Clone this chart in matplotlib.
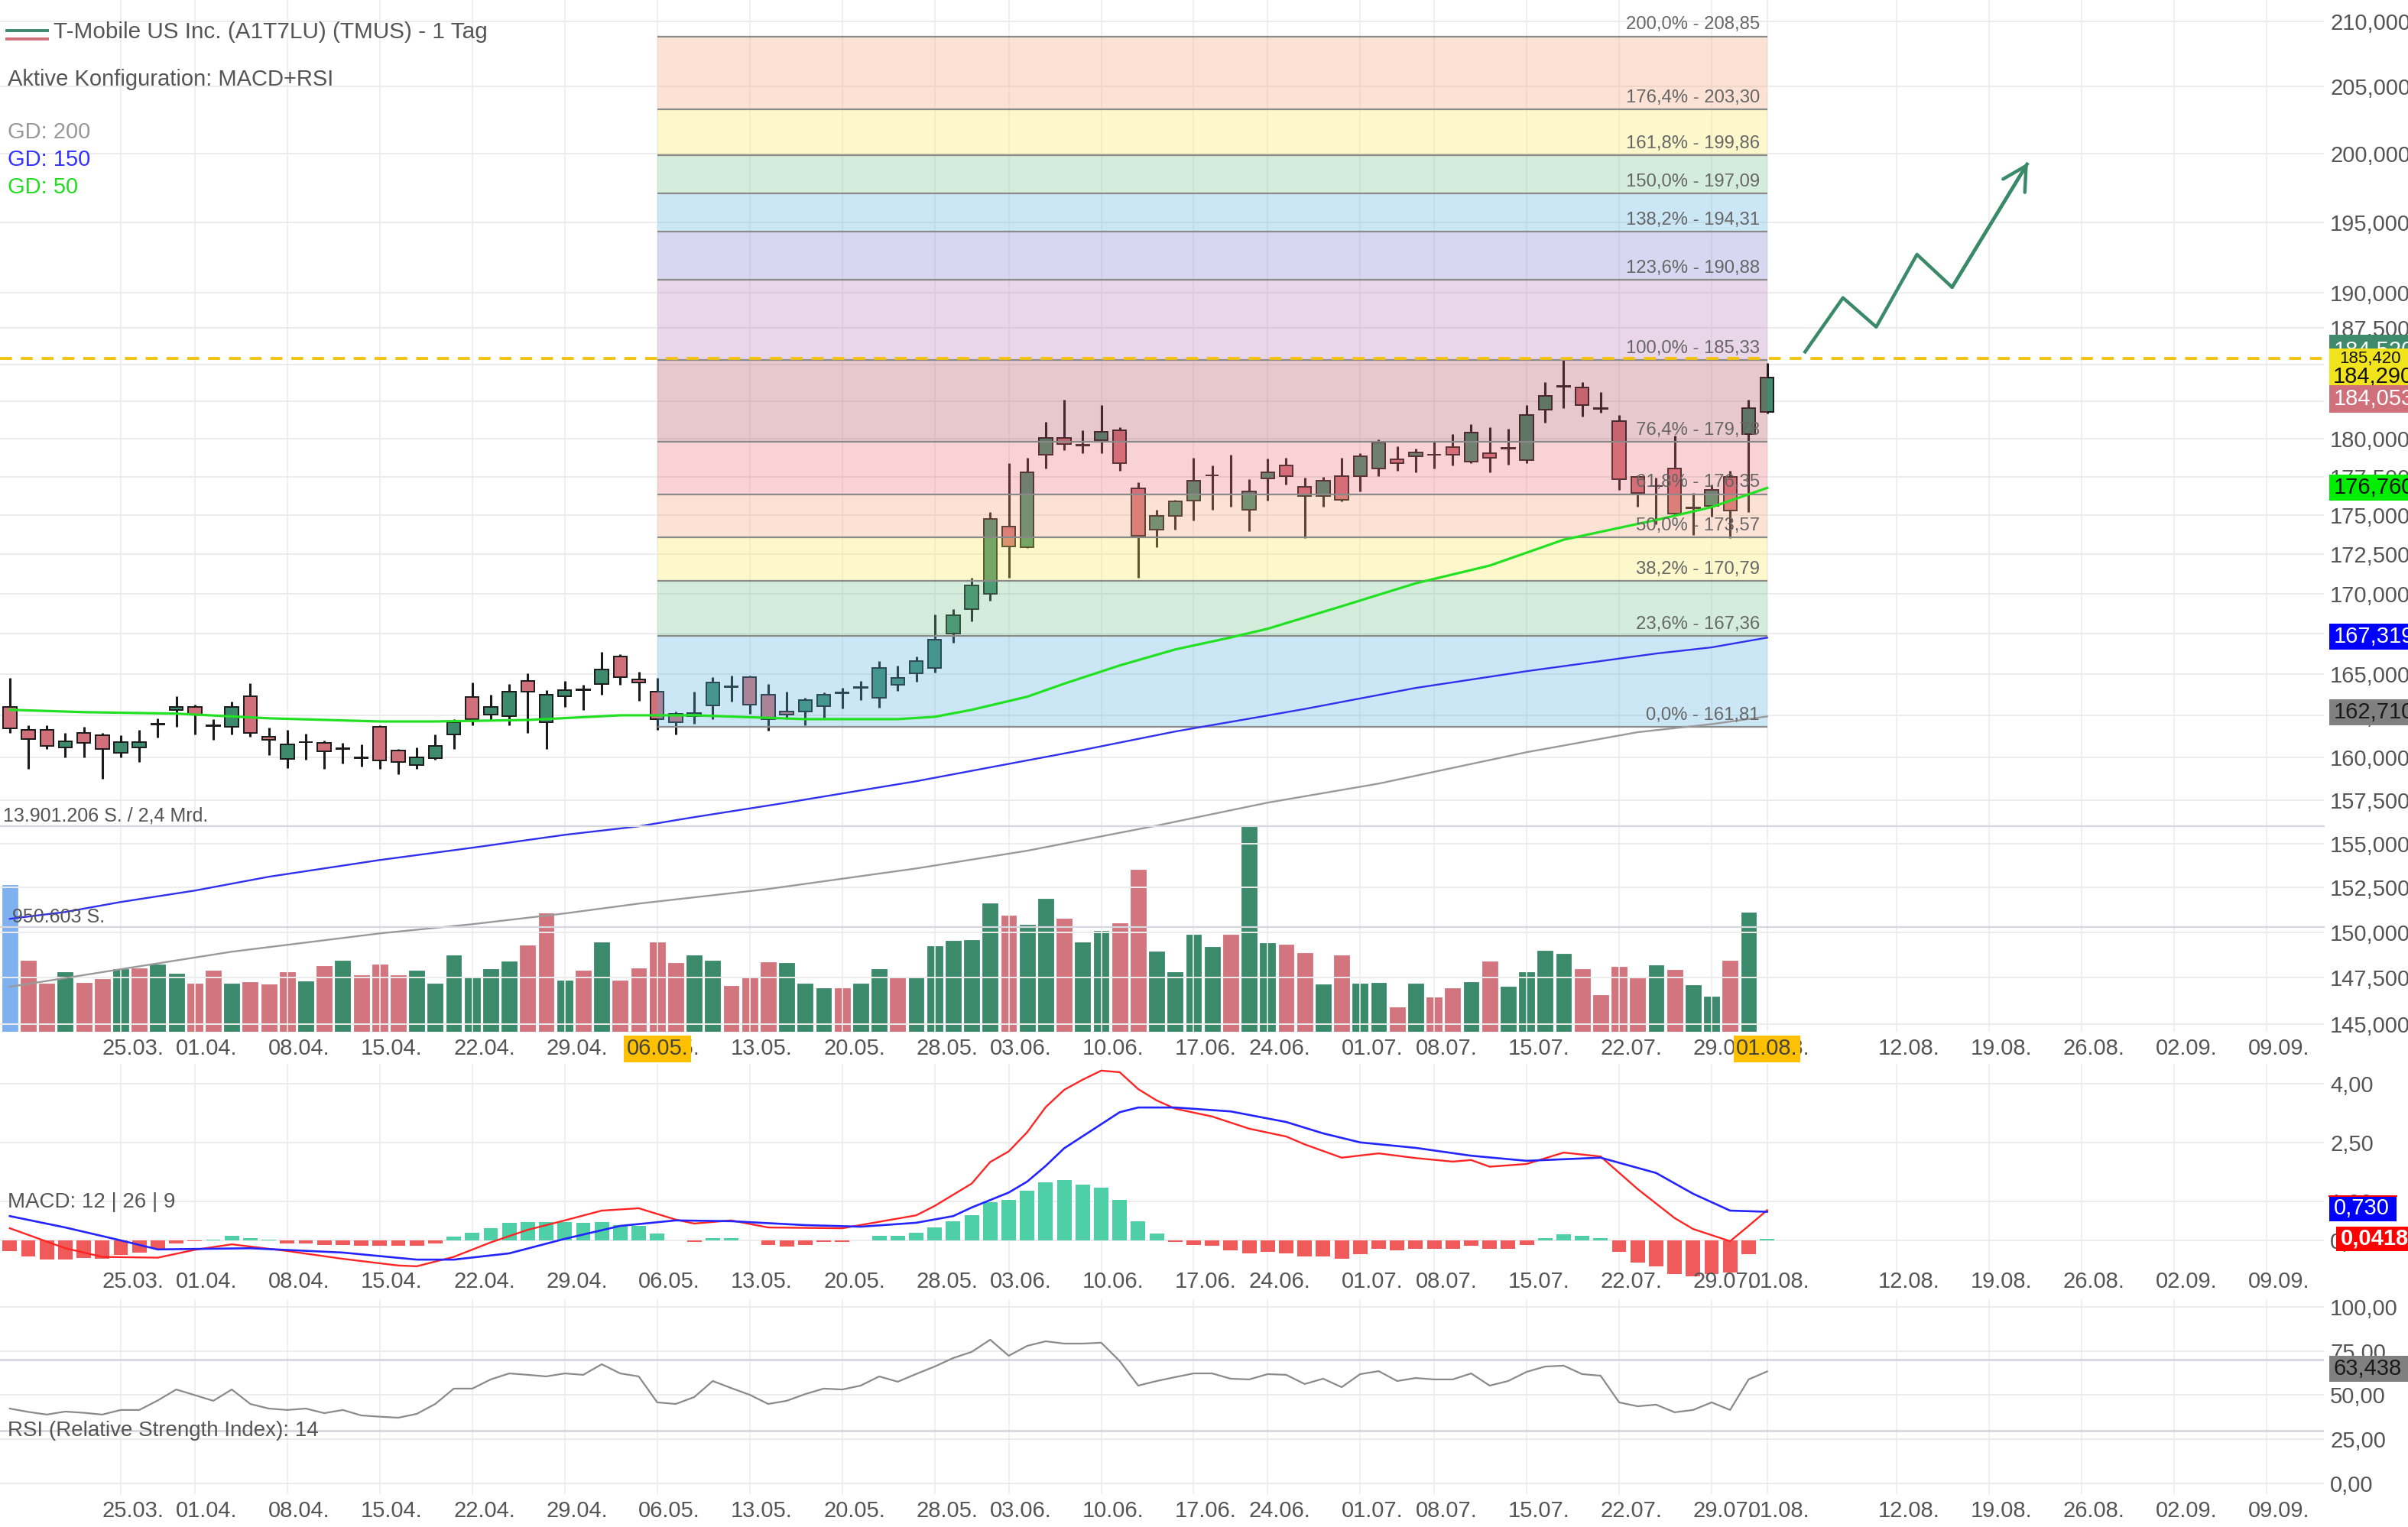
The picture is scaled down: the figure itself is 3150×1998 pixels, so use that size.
import matplotlib
matplotlib.use('agg')
import matplotlib.pyplot as plt
import matplotlib.transforms as mtransforms
from matplotlib.patches import Rectangle
from matplotlib.lines import Line2D
from matplotlib.ticker import FixedLocator, NullLocator, FuncFormatter

plt.rcParams['font.family'] = ['Liberation Sans', 'DejaVu Sans']

# ---- daily candles, 15.03.2024 (index 0) .. 01.08.2024 (index 95) ----
opens = [163.03, 161.66, 161.66, 160.61, 161.48, 161.31, 160.27, 160.61, 161.95, 162.85,
         163.03, 161.86, 161.83, 163.68, 161.22, 159.92, 160.90, 160.87, 160.51, 159.99,
         161.83, 160.44, 159.58, 159.97, 161.39, 163.64, 162.57, 162.48, 164.61, 162.10,
         163.68, 164.04, 164.43, 166.10, 164.71, 163.96, 162.62, 162.48, 163.13, 164.22,
         164.85, 163.78, 162.76, 162.76, 163.08, 163.85, 164.18, 163.59, 164.34, 165.08,
         165.40, 167.49, 169.02, 169.98, 174.24, 172.92, 178.94, 180.05, 179.56, 179.89,
         180.57, 176.73, 174.04, 174.92, 175.92, 177.56, 176.31, 175.36, 177.38, 178.24,
         176.83, 176.22, 177.53, 177.53, 178.04, 178.64, 178.84, 178.92, 179.43, 178.49,
         179.04, 179.36, 178.59, 181.92, 183.51, 183.43, 182.00, 181.19, 177.48, 176.86,
         178.04, 175.45, 175.57, 177.48, 180.31, 181.81]
highs = [164.80, 161.92, 161.92, 161.48, 161.83, 161.48, 161.31, 161.66, 162.34, 163.68,
         163.17, 162.29, 163.36, 164.47, 161.78, 161.66, 161.44, 161.00, 160.87, 160.79,
         161.92, 160.53, 160.61, 161.39, 162.29, 164.52, 163.78, 164.43, 165.08, 164.06,
         164.61, 164.34, 166.38, 166.24, 165.17, 164.80, 162.76, 163.96, 164.85, 164.94,
         164.94, 164.43, 163.96, 163.59, 163.92, 164.20, 164.61, 165.82, 165.54, 166.10,
         168.68, 169.02, 170.98, 175.17, 178.39, 178.74, 181.14, 182.64, 180.57, 182.23,
         180.78, 177.13, 175.36, 175.97, 178.74, 178.24, 178.94, 177.33, 178.69, 178.74,
         177.43, 177.48, 178.74, 179.04, 179.95, 179.48, 179.34, 179.84, 180.31, 180.98,
         180.78, 180.67, 182.23, 183.79, 185.30, 183.79, 183.11, 181.61, 177.58, 177.43,
         180.21, 176.43, 176.98, 177.89, 182.59, 185.11]
lows = [161.48, 159.32, 160.53, 160.01, 160.01, 158.75, 160.01, 159.75, 161.18, 161.83,
        161.39, 161.05, 161.39, 161.22, 160.14, 159.40, 159.88, 159.32, 159.66, 159.45,
        159.32, 159.01, 159.32, 159.88, 160.53, 161.92, 162.20, 161.92, 161.48, 160.53,
        163.03, 162.85, 163.78, 164.34, 163.41, 161.66, 161.39, 162.01, 162.29, 163.36,
        162.62, 161.61, 162.29, 161.92, 162.38, 162.94, 163.45, 162.99, 164.01, 164.57,
        165.12, 166.93, 168.26, 169.55, 170.98, 172.87, 178.04, 179.23, 179.04, 179.04,
        177.89, 170.98, 172.92, 174.04, 174.63, 175.36, 175.52, 173.95, 175.92, 176.98,
        173.51, 175.52, 175.87, 176.53, 177.53, 177.89, 177.79, 178.04, 178.24, 178.39,
        177.79, 178.29, 178.39, 181.09, 182.07, 181.50, 181.76, 176.63, 175.52, 174.39,
        174.92, 173.70, 174.87, 173.51, 175.17, 181.71]
closes = [161.74, 161.09, 160.70, 160.96, 160.87, 160.53, 160.92, 160.92, 162.00, 163.03,
          162.57, 161.90, 163.03, 161.48, 161.05, 160.79, 160.94, 160.36, 160.55, 160.03,
          159.84, 159.75, 160.01, 160.70, 162.10, 162.29, 163.03, 163.96, 163.96, 163.78,
          164.06, 164.08, 165.31, 164.85, 164.52, 162.29, 162.10, 162.66, 164.52, 164.26,
          163.17, 162.29, 162.57, 163.45, 163.78, 163.89, 164.22, 165.40, 164.80, 165.82,
          167.12, 168.64, 170.49, 174.73, 172.97, 177.79, 180.05, 179.64, 179.60, 180.47,
          178.39, 173.65, 174.92, 175.87, 177.23, 177.60, 176.35, 176.53, 177.79, 177.53,
          176.22, 177.23, 175.97, 178.84, 179.74, 178.39, 179.09, 178.96, 178.94, 180.41,
          178.74, 179.40, 181.61, 182.85, 183.55, 182.23, 182.04, 177.33, 176.43, 176.90,
          175.07, 175.49, 176.63, 175.27, 182.07, 184.09]

# volume in million shares (index 0..94), b = highlighted, g = up, r = down
volumes = [9.92, 4.81, 3.26, 4.03, 3.31, 3.57, 4.24, 4.29, 4.55, 3.93,
           3.26, 4.13, 3.26, 3.36, 3.20, 4.03, 3.41, 4.44, 4.81, 3.82,
           4.55, 3.82, 4.13, 3.26, 5.17, 3.72, 4.24, 4.75, 5.84, 8.01,
           3.46, 4.13, 6.05, 3.46, 4.29, 6.05, 4.65, 5.17, 4.81, 3.10,
           3.72, 4.70, 4.65, 3.26, 2.95, 2.95, 3.26, 4.24, 3.67, 3.72,
           5.79, 6.15, 6.20, 8.68, 7.86, 7.24, 8.99, 7.65, 6.05, 6.82,
           7.34, 10.96, 5.43, 4.03, 6.56, 5.74, 6.56, 13.90, 5.99, 5.89,
           5.32, 3.20, 5.17, 3.26, 3.31, 1.65, 3.26, 2.33, 2.95, 3.36,
           4.75, 3.05, 4.03, 5.48, 5.27, 4.24, 2.48, 4.39, 3.62, 4.50,
           4.19, 3.15, 2.38, 4.81, 8.06]
vol_dir = ("b" + "rrgrrgrgg" + "rrgrrrgrgr" + "rrggggggrr" + "grgrrrrggr" + "rrgggrggrg"
           + "ggggrggrgg" + "rrggggrggr" + "rgrggrgrrg" + "rggggrrrrg" + "rggrg")

# moving averages (GD)
gd50_idx = [0, 4, 9, 14, 20, 23, 28, 33, 37, 43, 48, 50, 52, 55, 57, 60, 63, 66, 68, 72, 76, 80, 84, 89, 92, 95]
gd50_val = [162.85, 162.71, 162.62, 162.34, 162.15, 162.15, 162.24, 162.52, 162.52, 162.29, 162.29, 162.43,
            162.85, 163.64, 164.43, 165.54, 166.52, 167.26, 167.80, 169.20, 170.64, 171.76, 173.41, 174.68,
            175.51, 176.76]
gd150_idx = [0, 3, 6, 10, 14, 20, 25, 30, 34, 37, 42, 49, 58, 63, 68, 70, 76, 82, 89, 92, 95]
gd150_val = [150.75, 151.13, 151.69, 152.33, 153.11, 154.06, 154.76, 155.50, 155.99, 156.52, 157.36, 158.61,
             160.45, 161.55, 162.51, 162.90, 164.17, 165.19, 166.27, 166.65, 167.25]
gd200_idx = [0, 6, 12, 20, 25, 30, 34, 41, 49, 55, 62, 68, 74, 82, 88, 92, 95]
gd200_val = [147.01, 147.97, 148.93, 149.94, 150.45, 151.05, 151.60, 152.42, 153.58, 154.59, 156.03, 157.36,
             158.47, 160.32, 161.51, 161.99, 162.45]

# MACD 12|26|9
macd_idx = [0, 3, 5, 8, 10, 12, 15, 18, 21, 22, 24, 26, 28, 30, 32, 34, 36, 37, 39, 41, 45, 49, 50, 52,
            53, 54, 55, 56, 57, 58, 59, 60, 61, 62, 63, 65, 67, 69, 70, 72, 74, 76, 78, 79, 80, 82, 84,
            86, 88, 90, 91, 93, 94, 95]
macd_val = [0.31, -0.20, -0.42, -0.44, -0.24, -0.10, -0.27, -0.47, -0.64, -0.66, -0.42, -0.05, 0.27, 0.51,
            0.76, 0.82, 0.53, 0.43, 0.51, 0.33, 0.31, 0.64, 0.88, 1.45, 2.00, 2.27, 2.76, 3.40, 3.84, 4.10,
            4.33, 4.29, 3.86, 3.57, 3.36, 3.16, 2.85, 2.65, 2.45, 2.11, 2.22, 2.10, 2.01, 2.05, 1.88, 1.95,
            2.24, 2.14, 1.31, 0.57, 0.29, -0.02, 0.37, 0.77]
signal_idx = [0, 3, 6, 8, 13, 18, 22, 24, 27, 30, 33, 36, 39, 43, 46, 49, 51, 52, 54, 55, 56, 57, 60, 61,
              63, 66, 69, 71, 73, 76, 79, 82, 86, 89, 91, 93, 95]
signal_val = [0.62, 0.33, 0.00, -0.23, -0.20, -0.31, -0.49, -0.49, -0.33, 0.04, 0.37, 0.51, 0.49, 0.39,
              0.35, 0.45, 0.62, 0.84, 1.22, 1.50, 1.90, 2.35, 3.27, 3.39, 3.39, 3.29, 3.02, 2.73, 2.50, 2.36,
              2.16, 2.03, 2.11, 1.72, 1.19, 0.76, 0.73]
macd_hist = [-0.28, -0.40, -0.48, -0.48, -0.45, -0.46, -0.37, -0.32, -0.21, -0.07,
             -0.02, 0.02, 0.12, 0.05, 0.01, -0.08, -0.08, -0.11, -0.11, -0.13,
             -0.13, -0.13, -0.13, -0.07, 0.09, 0.20, 0.31, 0.44, 0.47, 0.47,
             0.47, 0.44, 0.47, 0.39, 0.37, 0.18, 0.00, -0.03, 0.05, 0.05,
             0.00, -0.12, -0.15, -0.11, -0.04, -0.04, 0.00, 0.12, 0.12, 0.20,
             0.33, 0.49, 0.64, 0.98, 1.03, 1.26, 1.49, 1.54, 1.43, 1.34,
             1.03, 0.49, 0.18, -0.03, -0.11, -0.14, -0.26, -0.33, -0.29, -0.33,
             -0.40, -0.40, -0.47, -0.36, -0.22, -0.26, -0.22, -0.22, -0.22, -0.14,
             -0.22, -0.22, -0.11, 0.05, 0.16, 0.12, 0.05, -0.29, -0.56, -0.67,
             -0.86, -0.92, -0.86, -0.82, -0.36, 0.04]

# RSI 14
rsi = [42.4, 40.5, 39.0, 40.7, 40.0, 39.0, 41.6, 41.6, 47.0, 53.2,
       50.0, 46.8, 53.2, 45.0, 42.4, 41.6, 42.4, 39.8, 41.6, 38.5,
       37.8, 37.2, 39.4, 45.0, 53.7, 53.7, 58.9, 62.3, 61.5, 60.6,
       62.3, 61.5, 67.5, 62.3, 60.6, 45.9, 45.0, 48.9, 58.0, 54.0,
       50.2, 45.0, 46.8, 50.6, 53.7, 53.2, 55.4, 60.6, 57.6, 62.0,
       66.2, 71.0, 74.5, 81.4, 72.3, 77.9, 80.5, 79.2, 79.2, 79.7,
       69.3, 55.4, 58.0, 60.2, 62.3, 62.3, 59.3, 58.9, 61.9, 61.5,
       56.3, 59.3, 54.5, 61.9, 63.6, 58.0, 59.7, 58.9, 58.9, 62.3,
       55.4, 58.0, 63.2, 66.2, 66.7, 61.9, 61.0, 45.9, 43.7, 44.6,
       40.3, 41.6, 45.9, 41.6, 58.9, 63.4]

# Fibonacci retracement 06.05. - 01.08.
fib_pct = [0.0, 23.6, 38.2, 50.0, 61.8, 76.4, 100.0, 123.6, 138.2, 150.0, 161.8, 176.4, 200.0]
fib_price = [161.81, 167.36, 170.79, 173.57, 176.35, 179.78, 185.33, 190.88, 194.31, 197.09, 199.86, 203.30, 208.85]
fib_colors = ['#55b2de', '#70c38a', '#f8eb55', '#f8a276', '#e86c73', '#b24b58',
              '#b97ab9', '#807dd4', '#55b2de', '#70c38a', '#f8eb55', '#f8a276']
fib_start, fib_end = 35, 95

# trend arrow drawn into the future
arrow_idx = [97.0, 99.1, 100.9, 103.1, 105.0, 109.1]
arrow_price = [185.78, 189.62, 187.59, 192.68, 190.36, 199.32]

date_idx = [6, 10, 15, 20, 25, 30, 35, 40, 45, 50, 54, 59, 64, 68, 73, 77, 82, 87, 92, 95,
            102, 107, 112, 117, 122]
date_lbl = ['25.03.', '01.04.', '08.04.', '15.04.', '22.04.', '29.04.', '06.05.', '13.05.', '20.05.',
            '28.05.', '03.06.', '10.06.', '17.06.', '24.06.', '01.07.', '08.07.', '15.07.', '22.07.',
            '29.07.', '01.08.', '12.08.', '19.08.', '26.08.', '02.09.', '09.09.']

price_ticks = [145, 147.5, 150, 152.5, 155, 157.5, 160, 162.5, 165, 167.5, 170, 172.5, 175, 177.5,
               180, 182.5, 185, 187.5, 190, 195, 200, 205, 210]
macd_ticks = [0, 1, 2.5, 4]
rsi_ticks = [0, 25, 50, 75, 100]

# ---------------- layout ----------------
W, H = 3150, 1998
fig = plt.figure(figsize=(W / 200, H / 200), dpi=200)
fig.patch.set_facecolor('white')
PR = 3040


def rect(x0, y0, x1, y1):
    return [x0 / W, 1 - y1 / H, (x1 - x0) / W, (y1 - y0) / H]


ax_vol = fig.add_axes(rect(0, 1081, PR, 1350), zorder=1)
ax = fig.add_axes(rect(0, 0, PR, 1350), zorder=2)
ax_macd = fig.add_axes(rect(0, 1392, PR, 1672))
ax_rsi = fig.add_axes(rect(0, 1700, PR, 1955))

TXT = '#555555'
GRID = '#ececec'
UP, DOWN = '#3d8a6c', '#d0707a'

for a in (ax_vol, ax, ax_macd, ax_rsi):
    a.set_xlim(-0.53, 125.1)
    a.set_facecolor('none')
    for s in a.spines.values():
        s.set_visible(False)
    a.tick_params(length=0, labelbottom=False, labelleft=False)
    a.set_xticks([])
ax_vol.set_yticks([])

for a in (ax, ax_macd, ax_rsi):
    for d in date_idx:
        a.axvline(d, color='#eeeeee', lw=0.6, zorder=0)
    a.yaxis.tick_right()
    a.tick_params(axis='y', length=0, pad=2.9, labelsize=10.5, labelcolor=TXT, labelright=True)

# ---- main price panel ----
ax.set_yscale('log')
ax.set_ylim(144.59, 211.67)
ax.yaxis.set_major_locator(FixedLocator(price_ticks))
ax.yaxis.set_minor_locator(NullLocator())
ax.yaxis.set_major_formatter(FuncFormatter(lambda v, p: f"{v:.3f}".replace('.', ',')))
for t in price_ticks:
    ax.axhline(t, color=GRID, lw=0.7, zorder=0)

for i in range(len(opens)):
    o, h, l, c = opens[i], highs[i], lows[i], closes[i]
    ax.vlines(i, l, h, color='#1a1a1a', lw=1.1, zorder=2)
    body = max(abs(c - o), 0.02)
    ax.bar(i, body, bottom=min(o, c), width=0.72, color=UP if c >= o else DOWN,
           edgecolor='#1a1a1a', lw=0.7, zorder=2.2)

for k in range(len(fib_colors)):
    ax.fill_between([fib_start, fib_end], fib_price[k], fib_price[k + 1],
                    color=fib_colors[k], alpha=0.3, lw=0, zorder=3)
ax.hlines(fib_price, fib_start, fib_end, color='#8a8a8a', lw=0.8, zorder=3.5)
for pct, pr in zip(fib_pct, fib_price):
    lbl = f"{pct:.1f}%".replace('.', ',') + " - " + f"{pr:.2f}".replace('.', ',')
    ax.annotate(lbl, (fib_end, pr), xytext=(-3.5, 1.5), textcoords='offset points',
                ha='right', va='bottom', fontsize=8.6, color='#666666', zorder=6)

ax.plot(gd200_idx, gd200_val, color='#9a9a9a', lw=0.85, zorder=4)
ax.plot(gd150_idx, gd150_val, color='#3030ee', lw=0.85, zorder=4)
ax.plot(gd50_idx, gd50_val, color='#22e022', lw=1.15, zorder=4)

ax.axhline(185.42, color='#f4c20d', lw=1.4, ls=(0, (4, 3)), zorder=5)

ax.plot(arrow_idx, arrow_price, color='#3a8a6a', lw=1.6, zorder=5, solid_capstyle='butt')
ax.annotate('', xy=(arrow_idx[-1], arrow_price[-1]), xytext=(arrow_idx[-2], arrow_price[-2]),
            arrowprops=dict(arrowstyle='->,head_length=0.55,head_width=0.3', color='#3a8a6a',
                            lw=1.6, mutation_scale=20, shrinkA=0, shrinkB=0), zorder=5)

# ---- volume ----
vcol = {'b': '#7fb0f0', 'g': '#3b8a6c', 'r': '#d2757f'}
ax_vol.set_ylim(0, 13.9)
ax_vol.bar(range(len(volumes)), volumes, width=0.82,
           color=[vcol[c] for c in vol_dir], edgecolor=[vcol[c] for c in vol_dir], lw=0.3)

# ---- MACD ----
ax_macd.set_ylim(-0.955, 4.503)
ax_macd.set_yticks(macd_ticks)
ax_macd.yaxis.set_major_formatter(FuncFormatter(lambda v, p: f"{v:.2f}".replace('.', ',')))
for t in macd_ticks:
    ax_macd.axhline(t, color=GRID, lw=0.7, zorder=0)
ax_macd.bar(range(len(macd_hist)), macd_hist, width=0.78,
            color=['#4fcfa5' if v >= 0 else '#f05a5a' for v in macd_hist], zorder=2)
ax_macd.plot(macd_idx, macd_val, color='#ff2424', lw=0.85, zorder=3)
ax_macd.plot(signal_idx, signal_val, color='#2424ff', lw=0.95, zorder=3)

# ---- RSI ----
ax_rsi.set_ylim(-6.06, 104.3)
ax_rsi.set_yticks(rsi_ticks)
ax_rsi.yaxis.set_major_formatter(FuncFormatter(lambda v, p: f"{v:.2f}".replace('.', ',')))
for t in rsi_ticks:
    ax_rsi.axhline(t, color=GRID, lw=0.7, zorder=0)
for t in (30, 70):
    ax_rsi.axhline(t, color='#d2d2da', lw=0.9, zorder=1)
ax_rsi.plot(range(len(rsi)), rsi, color='#8a8a8a', lw=0.8, zorder=3)

# ---- date labels ----
for a, yrow in ((ax, 1372), (ax_macd, 1677), (ax_rsi, 1977)):
    tr = mtransforms.blended_transform_factory(a.transData, fig.transFigure)
    for d, l in zip(date_idx, date_lbl):
        a.text(d + 0.65, 1 - yrow / H, l, transform=tr, ha='center', va='center',
               fontsize=10.5, color=TXT, clip_on=False)
tr = mtransforms.blended_transform_factory(ax.transData, fig.transFigure)
for d, l in ((35, '06.05.'), (95, '01.08.')):
    ax.text(d, 1 - 1372 / H, l, transform=tr, ha='center', va='center', fontsize=10.5,
            color='#444444', clip_on=False, zorder=10,
            bbox=dict(boxstyle='square,pad=0.12', fc='#ffc000', ec='none'))

# ---- header texts ----
fig.add_artist(Line2D([9 / W, 62 / W], [1 - 40 / H] * 2, color=UP, lw=1.4))
fig.add_artist(Line2D([9 / W, 62 / W], [1 - 51 / H] * 2, color=DOWN, lw=1.4))
fig.text(70 / W, 1 - 42 / H, 'T-Mobile US Inc. (A1T7LU) (TMUS) - 1 Tag', va='center',
         fontsize=10.7, color=TXT)
fig.text(10 / W, 1 - 104 / H, 'Aktive Konfiguration: MACD+RSI', va='center', fontsize=10.5, color=TXT)
fig.text(10 / W, 1 - 173 / H, 'GD: 200', va='center', fontsize=10.5, color='#999999')
fig.text(10 / W, 1 - 209 / H, 'GD: 150', va='center', fontsize=10.5, color='#3333ff')
fig.text(10 / W, 1 - 245 / H, 'GD: 50', va='center', fontsize=10.5, color='#22dd22')

fig.add_artist(Line2D([0, PR / W], [1 - 1081 / H] * 2, color='#d6d6de', lw=0.8, zorder=3))
fig.add_artist(Line2D([0, PR / W], [1 - 1213 / H] * 2, color='#d6d6de', lw=0.8, zorder=3))
fig.text(4 / W, 1 - 1067 / H, '13.901.206 S. / 2,4 Mrd.', va='center', fontsize=9, color=TXT)
fig.text(16 / W, 1 - 1200 / H, '950.603 S.', va='center', fontsize=9, color=TXT, zorder=4)
fig.text(10 / W, 1 - 1573 / H, 'MACD: 12 | 26 | 9', va='center', fontsize=10, color=TXT)
fig.text(10 / W, 1 - 1872 / H, 'RSI (Relative Strength Index): 14', va='center', fontsize=10, color=TXT)

# ---- value boxes on the right scale ----
ID = mtransforms.IdentityTransform()


def value_box(yc, text, fc, tc, x0=3047, x1=W, h=34, fs=10.5, z=10, weight='normal', ty=None):
    fig.add_artist(Rectangle((x0, yc - h / 2), x1 - x0, h, transform=ID, fc=fc, ec='none', zorder=z))
    fig.text((x0 + 6) / W, (yc if ty is None else ty) / H, text, va='center', ha='left', fontsize=fs,
             color=tc, zorder=z + 0.05, fontweight=weight)
    return yc


def ypix(a, v):
    return a.transData.transform((0, v))[1]


value_box(ypix(ax, 176.76), '176,760', '#00ee00', '#111111')
value_box(ypix(ax, 167.319), '167,319', '#0000ff', '#ffffff')
value_box(ypix(ax, 162.71), '162,710', '#808080', '#1a1a1a')

# stacked boxes around the last price
yl = ypix(ax, 185.42)
value_box(yl + 14, '184,520', UP, '#ffffff', z=10, ty=yl + 10)
fig.add_artist(Rectangle((3047, yl - 35), W - 3047, 48, transform=ID, fc='#f2e41c', ec='none', zorder=10.2))
fig.text(3060 / W, (yl - 1) / H, '185,420', va='center', fontsize=8, color='#111111', zorder=10.3)
fig.text(3052 / W, (yl - 24) / H, '184,290', va='center', fontsize=10.5, color='#111111', zorder=10.3)
value_box(yl - 35 - 18, '184,053', DOWN, '#ffffff', h=36, z=10.5)

ym = value_box(ypix(ax_macd, 0.73) + 5, '0,730', '#0000ff', '#ffffff', x1=3135, z=10)
fig.add_artist(Line2D([3047, 3135], [ym + 16, ym + 16], transform=ID, color='#ff0000', lw=0.7, zorder=10.2))
value_box(ypix(ax_macd, 0.04187), '0,04187', '#ff0000', '#ffffff', x0=3056, h=32, z=10.5, weight='bold')
value_box(ypix(ax_rsi, 63.438) + 3, '63,438', '#808080', '#1a1a1a', h=34)

fig.savefig('out.png', dpi=200)
